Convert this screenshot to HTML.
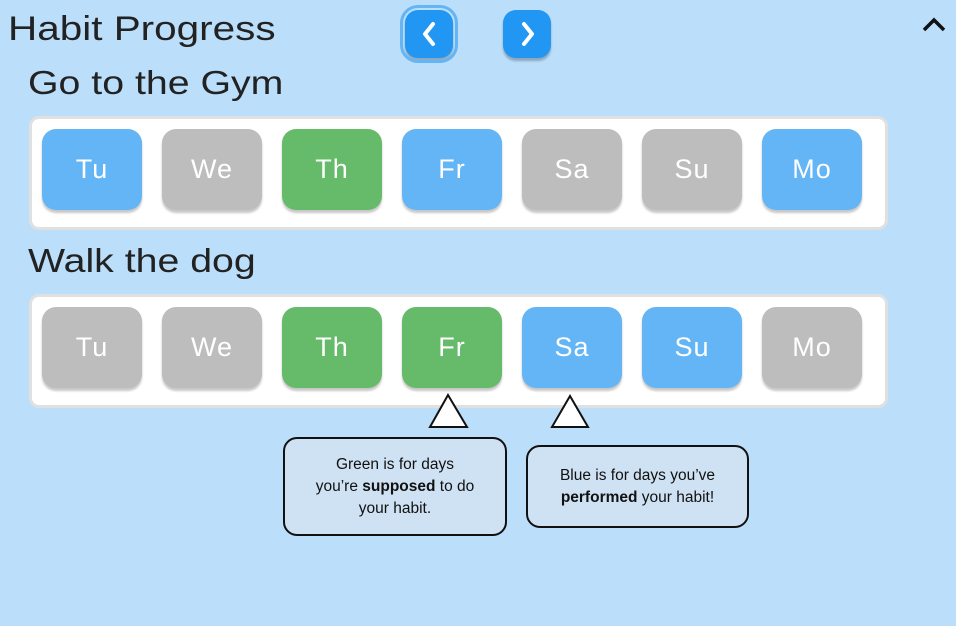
<!DOCTYPE html>
<html><head><meta charset="utf-8"><style>
*{margin:0;padding:0;box-sizing:border-box}
body{width:956px;height:626px;background:#bbdefb;position:relative;overflow:hidden;font-family:"Liberation Sans","DejaVu Sans",sans-serif;color:#222}
.abs{position:absolute}
.h{font-size:33px;color:#222;white-space:nowrap;transform:scaleX(1.19);transform-origin:left center}
.card{position:absolute;left:29px;width:859px;height:114px;background:#fff;border:3px solid #e0e0e0;border-radius:10px}
.day{position:absolute;width:100px;height:81px;border-radius:14px;color:#fff;font-size:27px;display:flex;align-items:center;justify-content:center;box-shadow:0 3px 2px rgba(0,0,0,0.22);letter-spacing:1px}
.b{background:#64b5f6}.g{background:#bdbdbd}.gr{background:#66bb6a}
.nav{position:absolute;width:48px;height:48px;border-radius:13px;background:#2196f3;box-shadow:0 3px 2px rgba(0,0,0,0.25)}
.tip{position:absolute;background:#cfe2f3;border:2px solid #111;border-radius:14px;font-size:15.5px;text-align:center;line-height:22px;color:#111;display:flex;align-items:center;justify-content:center}
.tip span{display:block}
</style></head><body>
<div class="abs h" style="left:8px;top:10px;font-size:34px">Habit Progress</div>
<div class="nav" style="left:405px;top:10px;outline:3px solid #64b5f6;outline-offset:2px">
<svg width="48" height="48"><path d="M28 14 L20 24 L28 34" stroke="#fff" stroke-width="4" fill="none" stroke-linecap="round" stroke-linejoin="round"/></svg></div>
<div class="nav" style="left:503px;top:10px">
<svg width="48" height="48"><path d="M21 14 L29 24 L21 34" stroke="#fff" stroke-width="4" fill="none" stroke-linecap="round" stroke-linejoin="round"/></svg></div>
<svg class="abs" style="left:920px;top:14px" width="28" height="22"><path d="M4 16 L14 6 L24 16" stroke="#111" stroke-width="3.5" fill="none"/></svg>

<div class="abs h" style="left:28px;top:64px">Go to the Gym</div>
<div class="card" style="top:116px"></div>
<div class="abs h" style="left:28px;top:242px">Walk the dog</div>
<div class="card" style="top:294px"></div>

<div id="days"></div>

<svg class="abs" style="left:0;top:0" width="956" height="626">
<polygon points="448,395 430,427 467,427" fill="#fff" stroke="#111" stroke-width="2"/>
<polygon points="570,396 552,427 588,427" fill="#fff" stroke="#111" stroke-width="2"/>
</svg>
<div class="tip" style="left:283px;top:437px;width:224px;height:99px"><span>Green is for days<br>you’re <b>supposed</b> to do<br>your habit.</span></div>
<div class="tip" style="left:526px;top:445px;width:223px;height:83px"><span>Blue is for days you’ve<br><b>performed</b> your habit!</span></div>

<script>
const dayLabels=["Tu","We","Th","Fr","Sa","Su","Mo"];
const gymStates=["b","g","gr","b","g","g","b"];
const dogStates=["g","g","gr","gr","b","b","g"];
const wrap=document.getElementById('days');
function row(states,top,name){
  states.forEach((s,i)=>{
    const d=document.createElement('div');
    d.className='day '+s;
    d.style.left=(42+i*120)+'px';
    d.style.top=top+'px';
    d.textContent=dayLabels[i];
    
    
    wrap.appendChild(d);
  });
}
row(gymStates,129,'gym');
row(dogStates,307,'dog');
</script>
</body></html>
